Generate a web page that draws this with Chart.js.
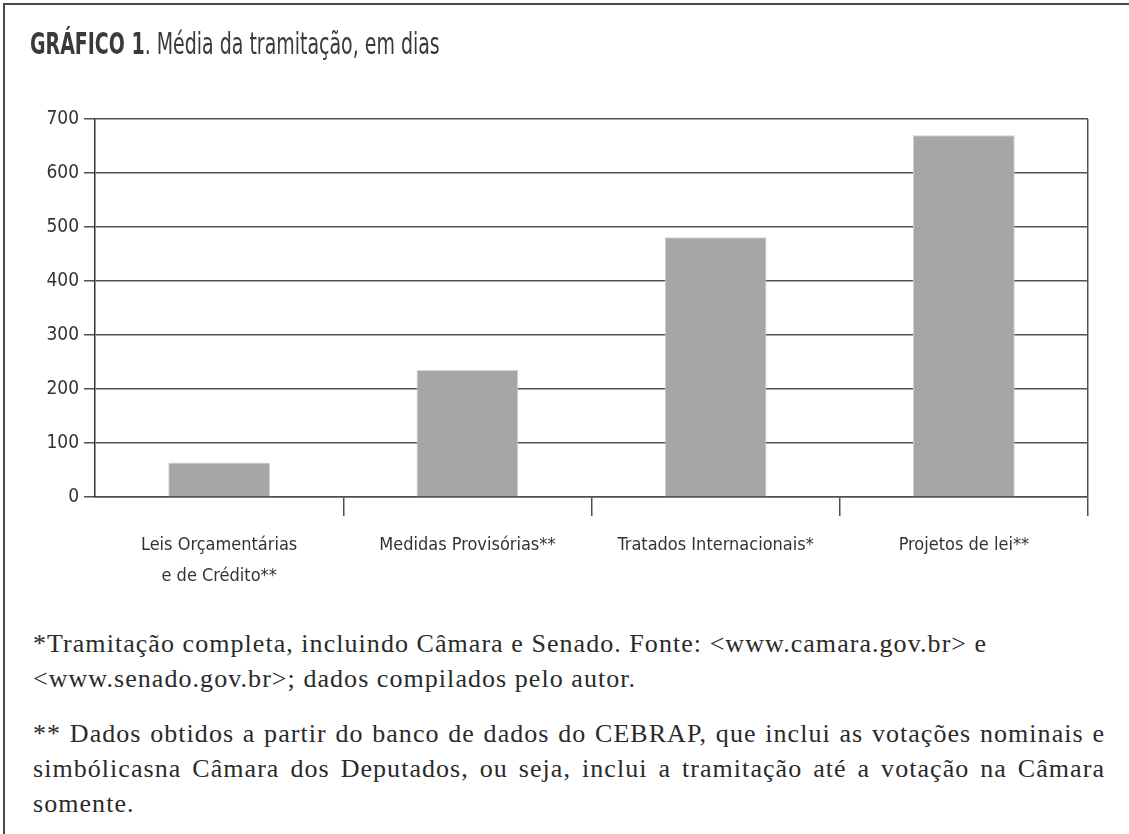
<!DOCTYPE html>
<html>
<head>
<meta charset="utf-8">
<script src="https://cdn.jsdelivr.net/npm/chart.js@4"></script>
<style>
    html, body { margin: 0; padding: 0; background: #fff; }
    body { width: 1129px; height: 834px; position: relative; overflow: hidden; }
    .frame { position: absolute; left: 3px; top: 3px; width: 1200px; height: 900px;
             border-top: 2px solid #4a4a4a; border-left: 2px solid #4a4a4a; }
    #wrap { position: absolute; left: 0; top: 0; width: 1129px; height: 600px; }
    .title { position: absolute; left: 30px; top: 23px; font-family: "Liberation Sans Narrow", "DejaVu Sans Condensed", sans-serif;
             font-size: 31px; color: #3a3a3a; white-space: nowrap; line-height: 40px;
             transform: scaleX(0.68); transform-origin: 0 0; }
    .title b { font-weight: bold; }
    .note { position: absolute; left: 33px; font-family: "Liberation Serif", serif; font-size: 26px;
            letter-spacing: 1.05px; color: #2a2a2a; line-height: 35px; }
    .note div { white-space: nowrap; }
    .note .j { text-align: justify; text-align-last: justify; width: 1072px; }
</style>
</head>
<body>
<div class="frame"></div>
<div id="wrap"><canvas id="myChart" width="1129" height="600"></canvas></div>
<div class="title"><b>GRÁFICO 1</b>. Média da tramitação, em dias</div>
<div class="note" style="top:626px">
    <div>*Tramitação completa, incluindo Câmara e Senado. Fonte: &lt;www.camara.gov.br&gt; e</div>
    <div>&lt;www.senado.gov.br&gt;; dados compilados pelo autor.</div>
</div>
<div class="note" style="top:716px">
    <div class="j">** Dados obtidos a partir do banco de dados do CEBRAP, que inclui as votações nominais e</div>
    <div class="j">simbólicasna Câmara dos Deputados, ou seja, inclui a tramitação até a votação na Câmara</div>
    <div>somente.</div>
</div>
<script>
    const labels = [
        ['Leis Orçamentárias', 'e de Crédito**'],
        'Medidas Provisórias**',
        'Tratados Internacionais*',
        'Projetos de lei**'
    ];
    const dias = [64, 235, 481, 670];
    const yTicks = [0, 100, 200, 300, 400, 500, 600, 700];

    const dark = '#505050';
    const narrow = '"Liberation Sans Narrow", "DejaVu Sans Condensed", sans-serif';

    const ctx = document.getElementById('myChart').getContext('2d');

    let myChart = new Chart(ctx, {
        type: 'bar',
        data: {
            labels: labels,
            datasets: [{
                data: dias,
                backgroundColor: '#a6a6a6',
                borderColor: '#d2d2d2',
                borderWidth: 1,
                barPercentage: 0.41,
                categoryPercentage: 1,
            }]
        },
        options: {
            responsive: false,
            animation: false,
            layout: {
                padding: { top: 119, right: 41, bottom: 0, left: 0 }
            },
            plugins: {
                legend: { display: false },
                tooltip: { enabled: false }
            },
            scales: {
                x: {
                    afterFit: scale => { scale.height = 103 },
                    grid: {
                        offset: true,
                        // only the right edge line goes across the plot
                        color: c => c.index === undefined ? dark : 'rgba(0,0,0,0)',
                        tickColor: c => c.index === 0 ? 'rgba(0,0,0,0)' : dark,
                        lineWidth: 1.5,
                        tickLength: 19,
                    },
                    border: { display: true, color: dark, width: 1.5 },
                    ticks: {
                        color: '#333',
                        padding: 14,
                        maxRotation: 0,
                        autoSkip: false,
                        font: { family: narrow, size: 18, lineHeight: 1.72 }
                    }
                },
                y: {
                    min: 0,
                    max: 700,
                    afterFit: scale => { scale.width = 95 },
                    afterBuildTicks: scale => {
                        scale.ticks = yTicks.map(v => ({ value: v }))
                    },
                    grid: {
                        color: dark,
                        lineWidth: 1.5,
                        tickLength: 11,
                    },
                    border: { display: true, color: '#333', width: 1.5 },
                    ticks: {
                        color: '#333',
                        padding: 5,
                        font: { family: narrow, size: 19 }
                    }
                }
            }
        }
    })
</script>
</body>
</html>
